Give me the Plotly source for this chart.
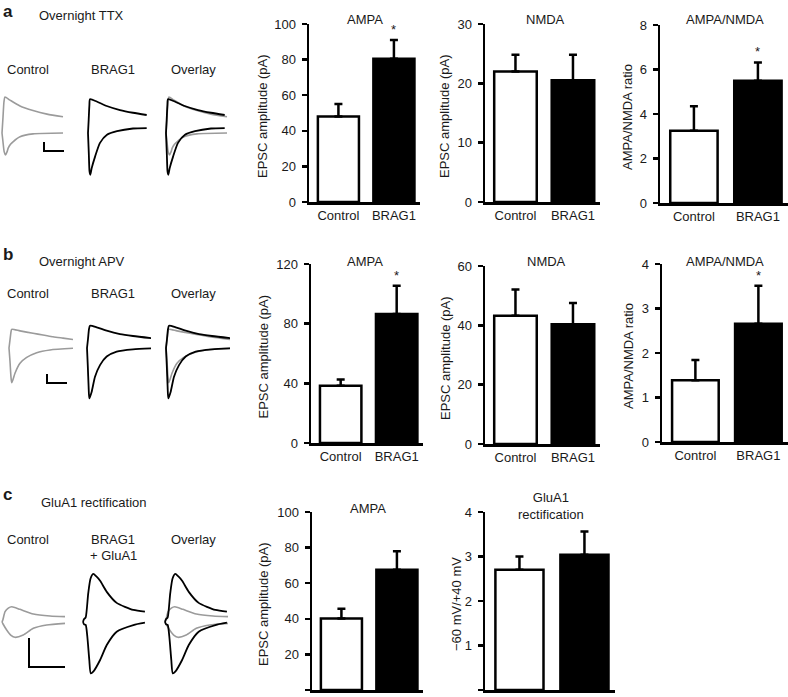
import plotly.graph_objects as go

W, H = 788, 697
FONT = "Liberation Sans, Arial, Helvetica, sans-serif"
TXT = "#1a1a1a"
GRAY = "#9b9b9b"

groups = ["Control", "BRAG1"]

# ---------------- bar data (mean, upper SEM) ----------------
a_ampa = [48.0, 80.5]
a_ampa_err = [7.0, 10.5]
a_nmda = [22.0, 20.5]
a_nmda_err = [2.8, 4.3]
a_ratio = [3.25, 5.5]
a_ratio_err = [1.1, 0.82]
b_ampa = [38.3, 86.4]
b_ampa_err = [4.2, 19.1]
b_nmda = [43.2, 40.4]
b_nmda_err = [8.9, 7.1]
b_ratio = [1.39, 2.66]
b_ratio_err = [0.45, 0.85]
c_ampa = [40.2, 67.6]
c_ampa_err = [5.4, 10.4]
c_rect = [2.70, 3.04]
c_rect_err = [0.30, 0.52]

# ---------------- example EPSC traces (time ms, current pA) ----------------
# a: overnight TTX  (+40 mV upper, -60 mV lower)
a_ctrl_pos_t = [0, 1, 2, 3, 8, 18, 31, 45, 61]
a_ctrl_pos_i = [0, 35, 70, 80, 73, 60, 50, 42, 36]
a_ctrl_neg_t = [0, 1, 2.2, 3.5, 5, 6.3, 8.5, 11.3, 18, 31, 61]
a_ctrl_neg_i = [0, -20, -42, -49, -42, -33, -25, -19, -8.5, -2, 0]
a_brag_pos_t = [0, 0.7, 1.4, 2, 8.7, 18.7, 32, 45, 58.7]
a_brag_pos_i = [0, 30, 62, 75, 70, 60, 51, 45, 40]
a_brag_neg_t = [0, 0.8, 1.5, 2.3, 3.7, 7, 12, 19, 29, 45, 58.7]
a_brag_neg_i = [0, -45, -85, -93, -78, -53, -22, -4, 4, 10, 11]
# b: overnight APV
b_ctrl_pos_t = [0, 1, 2, 2.7, 11, 24, 34, 44, 54, 64]
b_ctrl_pos_i = [0, 18, 36, 41.5, 38, 32.6, 29, 25, 22, 19]
b_ctrl_neg_t = [0, 1, 2, 2.7, 4, 6, 11, 17.7, 27.7, 41, 64]
b_ctrl_neg_i = [0, -30, -65, -77, -70, -56, -34, -21, -10.4, -4.4, -0.7]
b_brag_pos_t = [0, 1, 2, 3, 9.7, 19.7, 33, 46, 65.7]
b_brag_pos_i = [0, 20, 42, 49.6, 46, 38.5, 31, 26.7, 21.5]
b_brag_neg_t = [0, 0.8, 1.6, 2.3, 4.7, 8, 13, 19.7, 29.7, 46, 65.7]
b_brag_neg_i = [0, -40, -85, -112, -97, -64, -38, -19, -8, -3, -0.7]
# c: GluA1 rectification
c_ctrl_pos_t = [0, 0.5, 1.7, 3.5, 5.4, 10, 17.4, 26.7, 35]
c_ctrl_pos_i = [0, 4, 17.8, 24, 26.4, 21.8, 13.8, 10.3, 9.2]
c_ctrl_neg_t = [0, 0.5, 2.6, 5, 7.2, 11.8, 17.4, 24.8, 35]
c_ctrl_neg_i = [0, -3, -13.8, -23, -26.4, -22.4, -10.9, -5.2, -2.3]
c_brag_pos_t = [0, 0.6, 1.5, 2.9, 4.2, 5.7, 7.3, 9.5, 13.2, 18.7, 28, 34.4]
c_brag_pos_i = [0, 5, 8, 49.5, 75, 82.8, 79, 71, 52, 33, 20.7, 17.8]
c_brag_neg_t = [0, 0.6, 1.5, 2.4, 3.5, 4.3, 5.7, 9.5, 13.2, 18.7, 28, 34.4]
c_brag_neg_i = [0, -4, -5, -25, -65.5, -88.5, -85.6, -65.5, -39.7, -16.7, -5.2, -1.2]

# scale bars (ms, pA)
a_scale = [20, 20]
b_scale = [20, 20]
c_scale = [20, 50]


def fx(x):
    return x / W


def fy(y):
    return 1 - y / H


fig = go.Figure()
layout = dict(
    width=W, height=H, margin=dict(l=0, r=0, t=0, b=0, autoexpand=False),
    paper_bgcolor="white", plot_bgcolor="white", showlegend=False,
    font=dict(family=FONT, size=13, color=TXT),
)
annotations = []


def note(text, x, y, size=13, xanchor="center", bold=False, angle=0):
    if bold:
        text = "<b>" + text + "</b>"
    annotations.append(dict(
        text=text, x=fx(x), y=fy(y), xref="paper", yref="paper",
        xanchor=xanchor, yanchor="middle", showarrow=False,
        textangle=angle, font=dict(family=FONT, size=size, color=TXT)))


# ---------------- bar panels ----------------
bar_panels = [
    # vals, errs, ymax, dtick, axis_x, end_x, top, bottom, title, (tx, ty), ytitle, ytx, show_x, star
    (a_ampa, a_ampa_err, 100, 20, 309, 420, 24, 202, "AMPA", (365, 20), "EPSC amplitude (pA)", 263, True, True),
    (a_nmda, a_nmda_err, 30, 10, 485, 600, 24, 202, "NMDA", (545, 20), "EPSC amplitude (pA)", 445, True, False),
    (a_ratio, a_ratio_err, 8, 2, 660, 788, 25, 203, "AMPA/NMDA", (725, 20), "AMPA/NMDA ratio", 628, True, True),
    (b_ampa, b_ampa_err, 120, 40, 311, 423, 264, 443, "AMPA", (365, 261), "EPSC amplitude (pA)", 263, True, True),
    (b_nmda, b_nmda_err, 60, 20, 485, 600, 266, 444, "NMDA", (546, 261), "EPSC amplitude (pA)", 445, True, False),
    (b_ratio, b_ratio_err, 4, 1, 662, 788, 264, 442, "AMPA/NMDA", (725, 261), "AMPA/NMDA ratio", 628, True, True),
    (c_ampa, c_ampa_err, 100, 20, 312, 423, 512, 690, "AMPA", (368, 508), "EPSC amplitude (pA)", 263, False, False),
    (c_rect, c_rect_err, 4, 1, 485, 615, 512, 690, "GluA1<br>rectification", (551, 506), "\u221260 mV/+40 mV", 456, False, False),
]

n = 0
for (vals, errs, ymax, dtick, ax0, ax1, top, bot, title, tpos, ytitle, ytx, show_x, star) in bar_panels:
    n += 1
    xa = "x" if n == 1 else "x%d" % n
    ya = "y" if n == 1 else "y%d" % n
    fig.add_trace(go.Bar(
        x=[0, 1], y=vals, width=0.74, xaxis=xa, yaxis=ya,
        marker=dict(color=["white", "black"], line=dict(color="black", width=2.5)),
        error_y=dict(type="data", symmetric=False, array=errs, arrayminus=[0, 0],
                     color="black", thickness=2.5, width=4),
        hoverinfo="skip"))
    layout["xaxis" if n == 1 else "xaxis%d" % n] = dict(
        domain=[fx(ax0), fx(ax1)], range=[-0.53, 1.47], anchor=ya,
        showline=True, linecolor="black", linewidth=2.5, ticks="",
        tickvals=[0, 1], ticktext=groups, showticklabels=show_x,
        showgrid=False, zeroline=False, automargin=False,
        tickfont=dict(size=13, color=TXT))
    layout["yaxis" if n == 1 else "yaxis%d" % n] = dict(
        domain=[fy(bot), fy(top)], range=[0, ymax], anchor=xa,
        tick0=0, dtick=dtick, ticks="outside", ticklen=5, tickwidth=2.5,
        tickcolor="black", showline=True, linecolor="black", linewidth=2.5,
        showgrid=False, zeroline=False, ticklabelstandoff=3, automargin=False,
        tickfont=dict(size=13, color=TXT))
    note(title, tpos[0], tpos[1])
    note(ytitle, ytx, (top + bot) / 2 + 3, angle=-90)
    if star:
        annotations.append(dict(
            text="*", x=1, y=vals[1] + errs[1], xref=xa, yref=ya,
            xanchor="center", yanchor="bottom", yshift=1, showarrow=False,
            font=dict(family=FONT, size=13, color=TXT)))

# ---------------- trace panels ----------------
rows = [
    # starts, top, bottom, base, ms/px, pA/px, traces, scale, scale anchor (t, i)
    ([2, 88, 166], 85, 190, 133, 1.0, 20 / 9,
     (a_ctrl_pos_t, a_ctrl_pos_i, a_ctrl_neg_t, a_ctrl_neg_i,
      a_brag_pos_t, a_brag_pos_i, a_brag_neg_t, a_brag_neg_i), a_scale, (42, -40)),
    ([9, 87, 166], 315, 410, 348, 1.0, 20 / 9,
     (b_ctrl_pos_t, b_ctrl_pos_i, b_ctrl_neg_t, b_ctrl_neg_i,
      b_brag_pos_t, b_brag_pos_i, b_brag_neg_t, b_brag_neg_i), b_scale, (38, -78)),
    ([2, 83, 165], 560, 680, 622, 20 / 36, 50 / 29,
     (c_ctrl_pos_t, c_ctrl_pos_i, c_ctrl_neg_t, c_ctrl_neg_i,
      c_brag_pos_t, c_brag_pos_i, c_brag_neg_t, c_brag_neg_i), c_scale, (15, -77.6)),
]


def line_trace(t, i, xa, ya, color, width):
    return go.Scatter(x=t, y=i, xaxis=xa, yaxis=ya, mode="lines",
                      line=dict(color=color, width=width, shape="spline", smoothing=0.6),
                      hoverinfo="skip")


for (starts, top, bot, base, mpp, ppp, tr, scale, anchor) in rows:
    cpt, cpi, cnt, cni, bpt, bpi, bnt, bni = tr
    for col, st in enumerate(starts):
        n += 1
        xa, ya = "x%d" % n, "y%d" % n
        layout["xaxis%d" % n] = dict(domain=[fx(st - 2), fx(st + 64)],
                                     range=[-2 * mpp, 64 * mpp], anchor=ya, visible=False)
        layout["yaxis%d" % n] = dict(domain=[fy(bot), fy(top)],
                                     range=[(base - bot) * ppp, (base - top) * ppp],
                                     anchor=xa, visible=False)
        if col in (0, 2):
            fig.add_trace(line_trace(cpt, cpi, xa, ya, GRAY, 1.6))
            fig.add_trace(line_trace(cnt, cni, xa, ya, GRAY, 1.6))
        if col in (1, 2):
            fig.add_trace(line_trace(bpt, bpi, xa, ya, "black", 1.8))
            fig.add_trace(line_trace(bnt, bni, xa, ya, "black", 1.8))
        if col == 0:
            t0, i0 = anchor
            fig.add_trace(go.Scatter(
                x=[t0, t0, t0 + scale[0]], y=[i0 + scale[1], i0, i0],
                xaxis=xa, yaxis=ya, mode="lines",
                line=dict(color="black", width=2), hoverinfo="skip"))

# ---------------- labels ----------------
note("a", 1, 12, size=17, xanchor="left", bold=True)
note("b", 1, 254, size=17, xanchor="left", bold=True)
note("c", 1, 494, size=17, xanchor="left", bold=True)
note("Overnight TTX", 37, 16, xanchor="left")
note("Overnight APV", 37, 261, xanchor="left")
note("GluA1 rectification", 39, 502, xanchor="left")
for y in (69, 293):
    note("Control", 28, y)
    note("BRAG1", 113, y)
    note("Overlay", 193, y)
note("Control", 28, 539)
note("BRAG1", 113, 539)
note("+ GluA1", 113, 555)
note("Overlay", 193, 539)

layout["annotations"] = annotations
fig.update_layout(**layout)
fig.write_html(
    "out.html",
    config={"displayModeBar": False, "staticPlot": True},
    post_script=(
        "var s=document.createElement('style');"
        "s.innerHTML='html,body{margin:0!important;padding:0!important;"
        "width:788px;height:697px;overflow:hidden;}';"
        "document.head.appendChild(s);"
    ),
)
